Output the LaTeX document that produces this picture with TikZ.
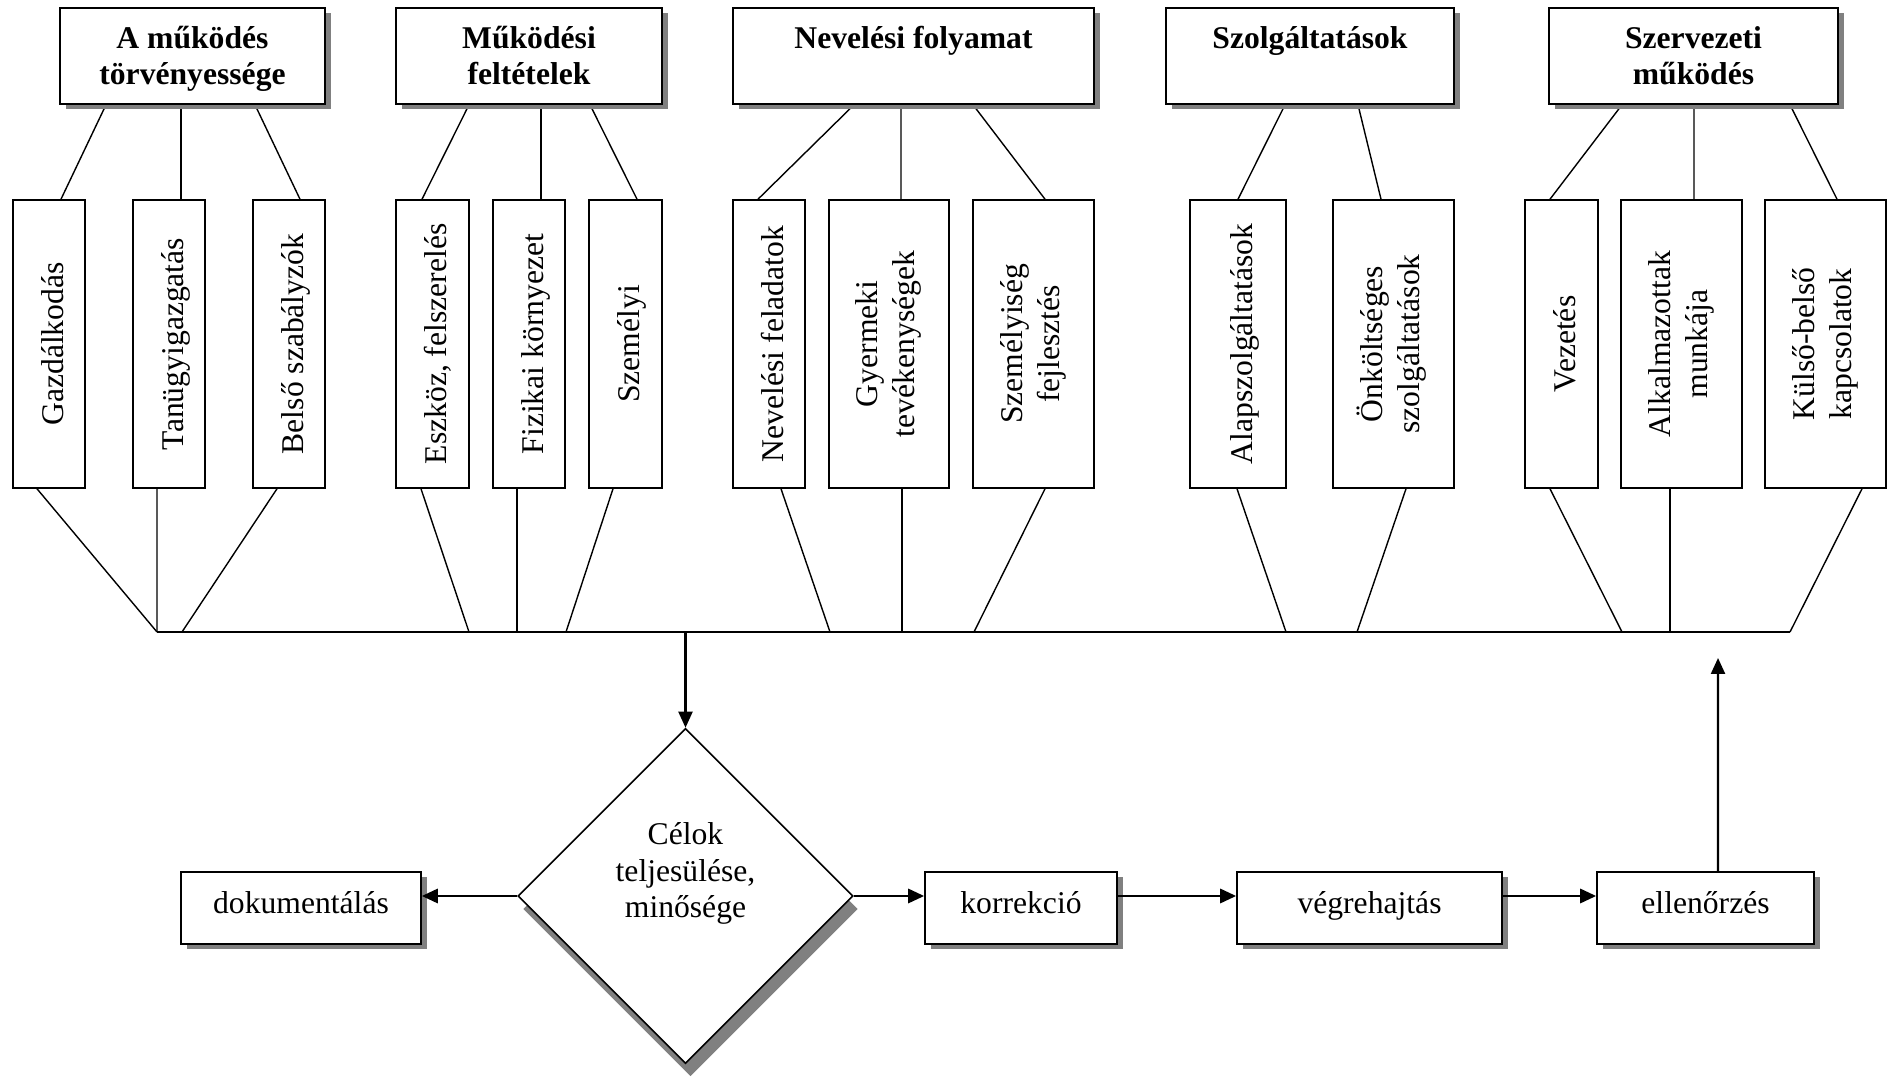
\documentclass[tikz,border=0pt]{standalone}
\usepackage{fontspec}
\setmainfont{Liberation Serif}
\usetikzlibrary{shapes.geometric,arrows.meta,shadows,backgrounds}

\newcommand{\uplabel}[2][0.14cm]{\hspace*{#1}\rotatebox{90}{\begin{tabular}{@{}c@{}}#2\end{tabular}}}

\begin{document}
\begin{tikzpicture}[
  font=\fontsize{9}{10.5}\selectfont,
  boxshadow/.style={drop shadow={shadow xshift=0.06cm, shadow yshift=-0.05cm, fill=black!50, opacity=1}},
  topbox/.style={draw, rectangle, line width=0.45pt, fill=white, boxshadow, minimum height=0.96cm, align=center, font=\fontsize{9}{10.5}\selectfont\bfseries, inner sep=1pt, text height=0.62cm, text depth=0.04cm},
  vbox/.style={draw, rectangle, line width=0.45pt, fill=white, minimum height=2.88cm, inner sep=1pt},
  stepbox/.style={draw, rectangle, line width=0.45pt, fill=white, boxshadow, minimum height=0.72cm, inner sep=1pt, text height=0.24cm, text depth=0.12cm},
  decision/.style={draw, diamond, line width=0.45pt, fill=white, aspect=1, minimum width=3.35cm, minimum height=3.35cm, inner sep=0pt, align=center, text height=0.99cm, text depth=0.55cm, drop shadow={shadow xshift=0.05cm, shadow yshift=-0.13cm, fill=black!50, opacity=1}},
  conn/.style={line width=0.4pt},
  flowarrow/.style={line width=0.85pt, -{Triangle[length=0.16cm,width=0.14cm]}},
  thinarrow/.style={line width=0.6pt, -{Triangle[length=0.16cm,width=0.14cm]}}
]
\useasboundingbox (0,0) rectangle (18.88,-10.81);

% Main areas
\node[topbox, minimum width=2.65cm] (torv) at (1.925,-0.56) {A működés\\törvényessége};
\node[topbox, minimum width=2.66cm] (felt) at (5.29,-0.56) {Működési\\feltételek};
\node[topbox, minimum width=3.61cm] (nev) at (9.135,-0.56) {Nevelési folyamat\\~};
\node[topbox, minimum width=2.88cm] (szolg) at (13.10,-0.56) {Szolgáltatások\\~};
\node[topbox, minimum width=2.89cm] (szerv) at (16.935,-0.56) {Szervezeti\\működés};

% Sub-areas
\node[vbox, minimum width=0.72cm] (gazd) at (0.49,-3.44) {\uplabel{Gazdálkodás}};
\node[vbox, minimum width=0.72cm] (tanugy) at (1.69,-3.44) {\uplabel{Tanügyigazgatás}};
\node[vbox, minimum width=0.72cm] (belso) at (2.89,-3.44) {\uplabel{Belső szabályzók}};
\node[vbox, minimum width=0.73cm] (eszkoz) at (4.325,-3.44) {\uplabel{Eszköz, felszerelés}};
\node[vbox, minimum width=0.72cm] (fizikai) at (5.29,-3.44) {\uplabel{Fizikai környezet}};
\node[vbox, minimum width=0.73cm] (szemelyi) at (6.255,-3.44) {\uplabel{Személyi}};
\node[vbox, minimum width=0.72cm] (nevfel) at (7.69,-3.44) {\uplabel{Nevelési feladatok}};
\node[vbox, minimum width=1.20cm] (gyerm) at (8.89,-3.44) {\uplabel[0pt]{Gyermeki\\tevékenységek}};
\node[vbox, minimum width=1.21cm] (szemfejl) at (10.335,-3.44) {\uplabel[0pt]{Személyiség\\fejlesztés}};
\node[vbox, minimum width=0.96cm] (alap) at (12.38,-3.44) {\uplabel{Alapszolgáltatások}};
\node[vbox, minimum width=1.21cm] (onkolt) at (13.935,-3.44) {\uplabel[0pt]{Önköltséges\\szolgáltatások}};
\node[vbox, minimum width=0.73cm] (vezet) at (15.615,-3.44) {\uplabel{Vezetés}};
\node[vbox, minimum width=1.21cm] (alkalm) at (16.815,-3.44) {\uplabel[0pt]{Alkalmazottak\\munkája}};
\node[vbox, minimum width=1.21cm] (kulso) at (18.255,-3.44) {\uplabel[0pt]{Külső-belső\\kapcsolatok}};

% Control loop
\node[stepbox, minimum width=2.40cm] (dok) at (3.01,-9.08) {dokumentálás};
\node[decision] (cel) at (6.855,-8.96) {Célok\\teljesülése,\\minősége};
\node[stepbox, minimum width=1.92cm] (korr) at (10.21,-9.08) {korrekció};
\node[stepbox, minimum width=2.65cm] (vegr) at (13.695,-9.08) {végrehajtás};
\node[stepbox, minimum width=2.17cm] (ell) at (17.055,-9.08) {ellenőrzés};

\coordinate (busL) at (1.57,-6.32);
\coordinate (busR) at (17.90,-6.32);
\coordinate (upend) at (17.18,-6.58);

% Areas to sub-areas
\begin{pgfonlayer}{background}
\draw[conn] ([xshift=-0.865cm]torv.south) -- ([xshift=0.12cm]gazd.north);
\draw[conn] ([xshift=-0.115cm]torv.south) -- ([xshift=0.12cm]tanugy.north);
\draw[conn] ([xshift=0.625cm]torv.south) -- ([xshift=0.11cm]belso.north);
\draw[conn] ([xshift=-0.60cm]felt.south) -- ([xshift=-0.105cm]eszkoz.north);
\draw[conn] ([xshift=0.12cm]felt.south) -- ([xshift=0.12cm]fizikai.north);
\draw[conn] ([xshift=0.61cm]felt.south) -- ([xshift=0.115cm]szemelyi.north);
\draw[conn] ([xshift=-0.595cm]nev.south) -- ([xshift=-0.11cm]nevfel.north);
\draw[conn] ([xshift=-0.125cm]nev.south) -- ([xshift=0.12cm]gyerm.north);
\draw[conn] ([xshift=0.595cm]nev.south) -- ([xshift=0.115cm]szemfejl.north);
\draw[conn] ([xshift=-0.25cm]szolg.south) -- (alap.north);
\draw[conn] ([xshift=0.48cm]szolg.south) -- ([xshift=-0.125cm]onkolt.north);
\draw[conn] ([xshift=-0.715cm]szerv.south) -- ([xshift=-0.115cm]vezet.north);
\draw[conn] ([xshift=0.005cm]szerv.south) -- ([xshift=0.125cm]alkalm.north);
\draw[conn] ([xshift=0.965cm]szerv.south) -- ([xshift=0.115cm]kulso.north);
\end{pgfonlayer}

% Sub-areas to the common line
\draw[conn] ([xshift=-0.12cm]gazd.south) -- (busL);
\draw[conn] ([xshift=-0.12cm]tanugy.south) -- (busL);
\draw[conn] ([xshift=-0.12cm]belso.south) -- (1.82,0 |- busL);
\draw[conn] ([xshift=-0.115cm]eszkoz.south) -- (4.69,0 |- busL);
\draw[conn] ([xshift=-0.12cm]fizikai.south) -- (5.17,0 |- busL);
\draw[conn] ([xshift=-0.125cm]szemelyi.south) -- (5.66,0 |- busL);
\draw[conn] ([xshift=0.12cm]nevfel.south) -- (8.30,0 |- busL);
\draw[conn] ([xshift=0.13cm]gyerm.south) -- (9.02,0 |- busL);
\draw[conn] ([xshift=0.115cm]szemfejl.south) -- (9.74,0 |- busL);
\draw[conn] ([xshift=-0.01cm]alap.south) -- (12.86,0 |- busL);
\draw[conn] ([xshift=0.125cm]onkolt.south) -- (13.57,0 |- busL);
\draw[conn] ([xshift=-0.115cm]vezet.south) -- (16.22,0 |- busL);
\draw[conn] ([xshift=-0.115cm]alkalm.south) -- (16.70,0 |- busL);
\draw[conn] ([xshift=0.365cm]kulso.south) -- (busR);
\draw[conn] (busL) -- (busR);

% Loop arrows
\draw[thinarrow] (cel.north |- busL) -- (cel.north);
\draw[flowarrow] (cel.west) -- (dok.east |- cel.west);
\draw[flowarrow] (cel.east) -- (korr.west |- cel.east);
\draw[flowarrow] (korr.east |- cel.east) -- (vegr.west |- cel.east);
\draw[flowarrow] (vegr.east |- cel.east) -- (ell.west |- cel.east);
\draw[line width=0.65pt, -{Triangle[length=0.16cm,width=0.14cm]}] ([xshift=0.125cm]ell.north) -- (upend);
\end{tikzpicture}
\end{document}
